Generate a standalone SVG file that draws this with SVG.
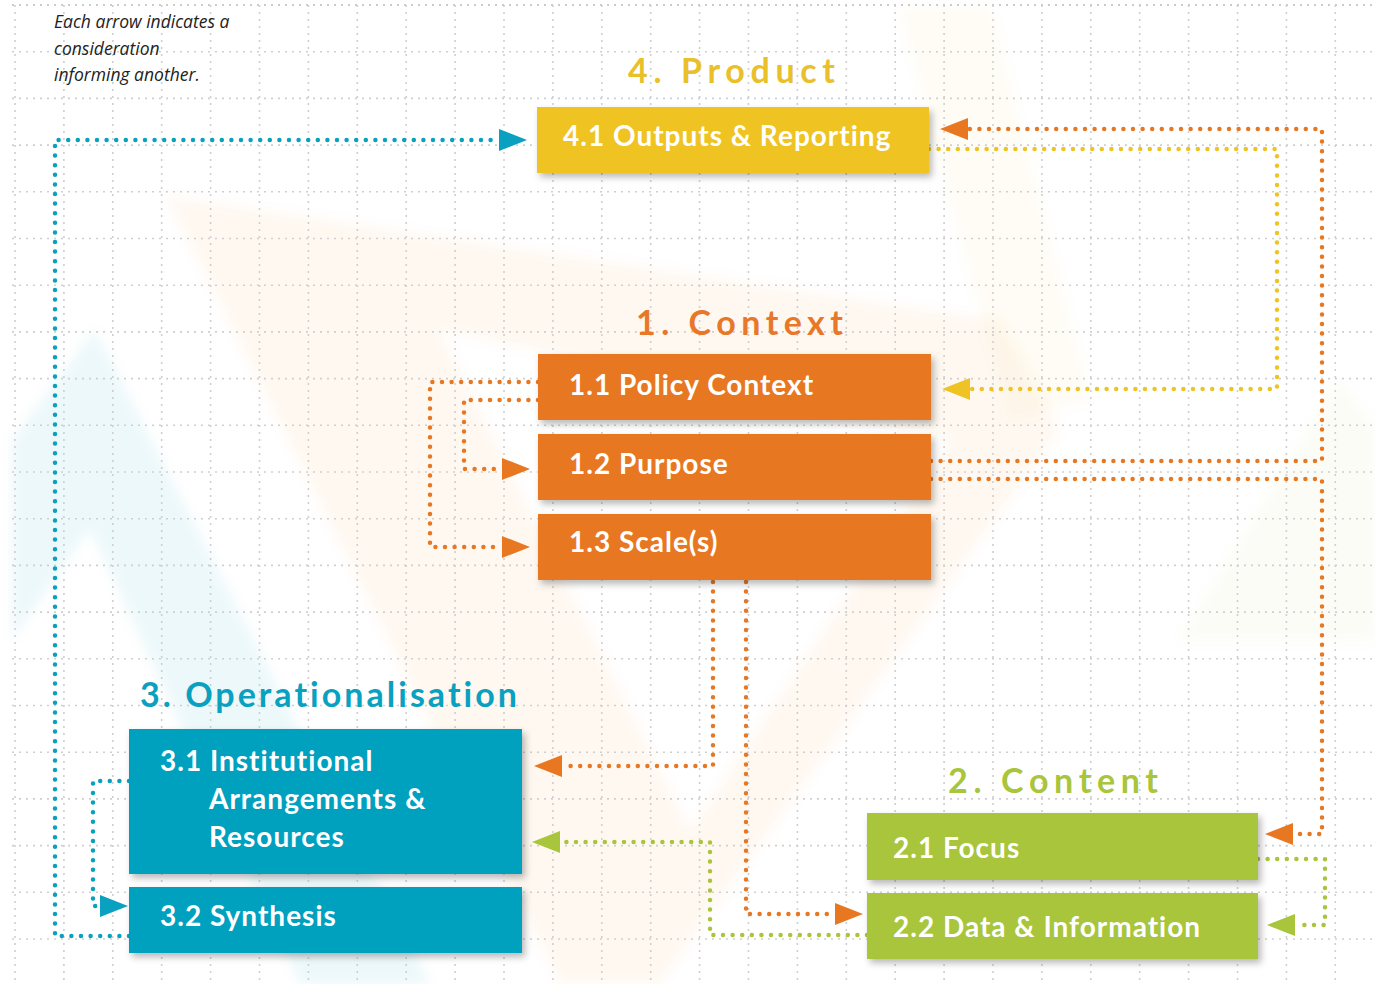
<svg xmlns="http://www.w3.org/2000/svg" width="1375" height="984" viewBox="0 0 1375 984">
<defs>
<style>
.grid line{stroke:#cfcfcf;stroke-width:1.6;stroke-dasharray:2 5}
.box text{font-family:Lato,"Open Sans",sans-serif;font-weight:700;font-size:28px;letter-spacing:1px;fill:#fff;font-variant-ligatures:none}
.title{font-family:Lato,"Open Sans",sans-serif;font-weight:700;font-size:34px;font-variant-ligatures:none}
.note{font-family:"Open Sans","Liberation Sans",sans-serif;font-style:italic;font-size:17.5px;fill:#222}
.conn path{fill:none;stroke-width:4.5;stroke-linecap:round;stroke-linejoin:round;stroke-dasharray:0 9.6}
.or{stroke:#e87722}.ye{stroke:#efc324}.te{stroke:#0aa0bf}.gr{stroke:#a8c53b}
</style>
<filter id="sh" x="-10%" y="-20%" width="125%" height="150%">
<feDropShadow dx="3" dy="4" stdDeviation="3.5" flood-color="#000" flood-opacity="0.28"/>
</filter>
<filter id="bl"><feGaussianBlur stdDeviation="6"/></filter>
<marker id="aOr" markerUnits="userSpaceOnUse" viewBox="0 0 28 22" refX="0" refY="11" markerWidth="28" markerHeight="22" orient="auto"><path d="M0,0 L28,11 L0,22 Z" fill="#e87722"/></marker>
<marker id="aYe" markerUnits="userSpaceOnUse" viewBox="0 0 28 22" refX="0" refY="11" markerWidth="28" markerHeight="22" orient="auto"><path d="M0,0 L28,11 L0,22 Z" fill="#efc324"/></marker>
<marker id="aTe" markerUnits="userSpaceOnUse" viewBox="0 0 28 22" refX="0" refY="11" markerWidth="28" markerHeight="22" orient="auto"><path d="M0,0 L28,11 L0,22 Z" fill="#0aa0bf"/></marker>
<marker id="aGr" markerUnits="userSpaceOnUse" viewBox="0 0 28 22" refX="0" refY="11" markerWidth="28" markerHeight="22" orient="auto"><path d="M0,0 L28,11 L0,22 Z" fill="#a8c53b"/></marker>
</defs>
<rect width="1375" height="984" fill="#fff"/>
<g id="background" filter="url(#bl)">
<path d="M165,195 L1000,320 L1060,430 L660,984 L560,984 Z M440,330 L950,440 L690,830 Z" fill="#e87722" fill-opacity="0.055" fill-rule="evenodd"/>
<path d="M900,8 L990,8 L1090,400 L1010,420 Z" fill="#efc324" fill-opacity="0.045"/>
<path d="M12,440 L95,330 L430,984 L300,984 L90,528 L12,640 Z" fill="#0aa0bf" fill-opacity="0.07"/>
<path d="M1180,640 L1340,380 L1375,430 L1375,640 Z" fill="#a8c53b" fill-opacity="0.05"/>
</g>
<g class="grid" id="grid">
<line x1="12" y1="5" x2="1375" y2="5" style="stroke:#bbb"/>
<line x1="12" y1="51.7" x2="1375" y2="51.7"/><line x1="12" y1="98.4" x2="1375" y2="98.4"/><line x1="12" y1="145.1" x2="1375" y2="145.1"/><line x1="12" y1="191.8" x2="1375" y2="191.8"/><line x1="12" y1="238.5" x2="1375" y2="238.5"/><line x1="12" y1="285.2" x2="1375" y2="285.2"/><line x1="12" y1="331.9" x2="1375" y2="331.9"/><line x1="12" y1="378.6" x2="1375" y2="378.6"/><line x1="12" y1="425.3" x2="1375" y2="425.3"/><line x1="12" y1="472" x2="1375" y2="472"/><line x1="12" y1="518.7" x2="1375" y2="518.7"/><line x1="12" y1="565.4" x2="1375" y2="565.4"/><line x1="12" y1="612.1" x2="1375" y2="612.1"/><line x1="12" y1="658.8" x2="1375" y2="658.8"/><line x1="12" y1="705.5" x2="1375" y2="705.5"/><line x1="12" y1="752.2" x2="1375" y2="752.2"/><line x1="12" y1="798.9" x2="1375" y2="798.9"/><line x1="12" y1="845.6" x2="1375" y2="845.6"/><line x1="12" y1="892.3" x2="1375" y2="892.3"/><line x1="12" y1="939" x2="1375" y2="939"/>
<line x1="15" y1="5" x2="15" y2="984"/><line x1="63.9" y1="5" x2="63.9" y2="984"/><line x1="112.8" y1="5" x2="112.8" y2="984"/><line x1="161.7" y1="5" x2="161.7" y2="984"/><line x1="210.6" y1="5" x2="210.6" y2="984"/><line x1="259.5" y1="5" x2="259.5" y2="984"/><line x1="308.4" y1="5" x2="308.4" y2="984"/><line x1="357.3" y1="5" x2="357.3" y2="984"/><line x1="406.2" y1="5" x2="406.2" y2="984"/><line x1="455.1" y1="5" x2="455.1" y2="984"/><line x1="504" y1="5" x2="504" y2="984"/><line x1="552.9" y1="5" x2="552.9" y2="984"/><line x1="601.8" y1="5" x2="601.8" y2="984"/><line x1="650.7" y1="5" x2="650.7" y2="984"/><line x1="699.6" y1="5" x2="699.6" y2="984"/><line x1="748.5" y1="5" x2="748.5" y2="984"/><line x1="797.4" y1="5" x2="797.4" y2="984"/><line x1="846.3" y1="5" x2="846.3" y2="984"/><line x1="895.2" y1="5" x2="895.2" y2="984"/><line x1="944.1" y1="5" x2="944.1" y2="984"/><line x1="993" y1="5" x2="993" y2="984"/><line x1="1041.9" y1="5" x2="1041.9" y2="984"/><line x1="1090.8" y1="5" x2="1090.8" y2="984"/><line x1="1139.7" y1="5" x2="1139.7" y2="984"/><line x1="1188.6" y1="5" x2="1188.6" y2="984"/><line x1="1237.5" y1="5" x2="1237.5" y2="984"/><line x1="1286.4" y1="5" x2="1286.4" y2="984"/><line x1="1335.3" y1="5" x2="1335.3" y2="984"/>
</g>
<g id="note">
<text class="note" x="54" y="28">Each arrow indicates a</text>
<text class="note" x="54" y="55">consideration</text>
<text class="note" x="54" y="81">informing another.</text>
</g>
<g id="titles">
<text class="title" x="628" y="83" fill="#e9c02a" textLength="207">4. Product</text>
<text class="title" x="636" y="335" fill="#e8772a" textLength="207">1. Context</text>
<text class="title" x="140" y="707" fill="#0aa0bf" textLength="377">3. Operationalisation</text>
<text class="title" x="948" y="793" fill="#a8c53b" textLength="210">2. Content</text>
</g>
<g class="conn" id="connectors">
<path class="te" d="M129,936 H55 V140 H499" marker-end="url(#aTe)"/>
<path class="or" d="M931,461 H1322 V129 H968" marker-end="url(#aOr)"/>
<path class="ye" d="M929,149 H1277 V389 H970" marker-end="url(#aYe)"/>
<path class="or" d="M931,479 H1322 V834 H1293" marker-end="url(#aOr)"/>
<path class="or" d="M538,382 H430 V547 H502" marker-end="url(#aOr)"/>
<path class="or" d="M538,400 H464 V469 H502" marker-end="url(#aOr)"/>
<path class="or" d="M713,582 V766 H562" marker-end="url(#aOr)"/>
<path class="or" d="M746,582 V914 H835" marker-end="url(#aOr)"/>
<path class="gr" d="M867,935 H710 V842 H560" marker-end="url(#aGr)"/>
<path class="gr" d="M1258,859 H1325 V925 H1295" marker-end="url(#aGr)"/>
<path class="te" d="M129,781 H93 V906 H100" marker-end="url(#aTe)"/>
</g>
<g id="n41" class="box"><rect x="537" y="107" width="392" height="66" fill="#efc324" filter="url(#sh)"/><text x="563" y="146">4.1 Outputs &amp; Reporting</text></g>
<g id="n11" class="box"><rect x="538" y="354" width="393" height="66" fill="#e87722" filter="url(#sh)"/><text x="569" y="395">1.1 Policy Context</text></g>
<g id="n12" class="box"><rect x="538" y="434" width="393" height="66" fill="#e87722" filter="url(#sh)"/><text x="569" y="474">1.2 Purpose</text></g>
<g id="n13" class="box"><rect x="538" y="514" width="393" height="66" fill="#e87722" filter="url(#sh)"/><text x="569" y="552">1.3 Scale(s)</text></g>
<g id="n31" class="box"><rect x="129" y="729" width="393" height="145" fill="#00a0bf" filter="url(#sh)"/><text x="160" y="771">3.1 Institutional</text><text x="209" y="809">Arrangements &amp;</text><text x="209" y="847">Resources</text></g>
<g id="n32" class="box"><rect x="129" y="887" width="393" height="66" fill="#00a0bf" filter="url(#sh)"/><text x="160" y="926">3.2 Synthesis</text></g>
<g id="n21" class="box"><rect x="867" y="813" width="391" height="67" fill="#a8c53b" filter="url(#sh)"/><text x="893" y="858">2.1 Focus</text></g>
<g id="n22" class="box"><rect x="867" y="893" width="391" height="66" fill="#a8c53b" filter="url(#sh)"/><text x="893" y="937">2.2 Data &amp; Information</text></g>
</svg>
